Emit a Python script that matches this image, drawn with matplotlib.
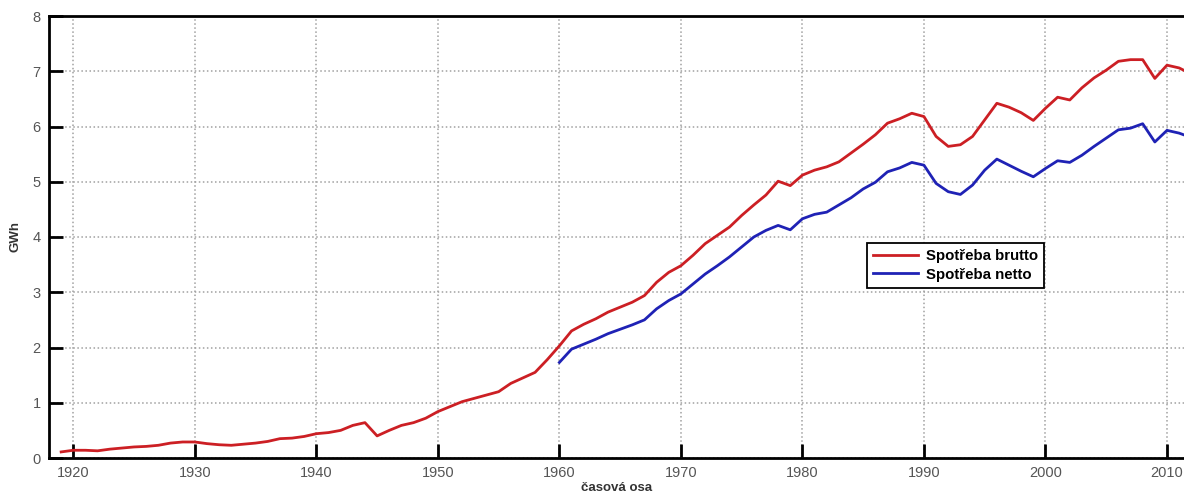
import matplotlib
matplotlib.use("Agg")
import matplotlib.pyplot as plt

years_brutto = [1919, 1920, 1921, 1922, 1923, 1924, 1925, 1926, 1927, 1928, 1929,
                1930, 1931, 1932, 1933, 1934, 1935, 1936, 1937, 1938, 1939,
                1940, 1941, 1942, 1943, 1944, 1945, 1946, 1947, 1948, 1949,
                1950, 1951, 1952, 1953, 1954, 1955, 1956, 1957, 1958, 1959,
                1960, 1961, 1962, 1963, 1964, 1965, 1966, 1967, 1968, 1969,
                1970, 1971, 1972, 1973, 1974, 1975, 1976, 1977, 1978, 1979,
                1980, 1981, 1982, 1983, 1984, 1985, 1986, 1987, 1988, 1989,
                1990, 1991, 1992, 1993, 1994, 1995, 1996, 1997, 1998, 1999,
                2000, 2001, 2002, 2003, 2004, 2005, 2006, 2007, 2008, 2009,
                2010, 2011, 2012]
brutto = [0.11, 0.14, 0.14, 0.13, 0.16, 0.18, 0.20, 0.21, 0.23, 0.27, 0.29,
          0.29, 0.26, 0.24, 0.23, 0.25, 0.27, 0.30, 0.35, 0.36, 0.39,
          0.44, 0.46, 0.50, 0.59, 0.64, 0.40, 0.50, 0.59, 0.64, 0.72,
          0.84, 0.93, 1.02, 1.08, 1.14, 1.20, 1.35, 1.45, 1.55, 1.78,
          2.03, 2.30, 2.42, 2.52, 2.64, 2.73, 2.82, 2.94, 3.18, 3.36,
          3.48, 3.67, 3.88, 4.03, 4.18, 4.39, 4.58, 4.76, 5.01, 4.93,
          5.12, 5.21, 5.27, 5.36, 5.52, 5.68, 5.85, 6.06, 6.14, 6.24,
          6.18, 5.82, 5.64, 5.67, 5.82, 6.12, 6.42, 6.35, 6.25, 6.11,
          6.33, 6.53, 6.48, 6.70, 6.88, 7.02, 7.18, 7.21, 7.21, 6.87,
          7.11, 7.06, 6.95]

years_netto = list(range(1960, 2013))
netto = [1.73, 1.97, 2.06, 2.15, 2.25, 2.33, 2.41, 2.50, 2.70, 2.85,
         2.97, 3.15, 3.33, 3.48, 3.64, 3.82, 4.00, 4.12, 4.21, 4.13,
         4.33, 4.41, 4.45, 4.58, 4.71, 4.87, 4.99, 5.18, 5.25, 5.35,
         5.30, 4.97, 4.82, 4.77, 4.94, 5.21, 5.41, 5.30, 5.19, 5.09,
         5.24, 5.38, 5.35, 5.48, 5.64, 5.79, 5.94, 5.97, 6.05, 5.72,
         5.93, 5.88, 5.80]

xticks = [1920, 1930, 1940, 1950, 1960, 1970, 1980, 1990, 2000, 2010]
yticks = [0, 1, 2, 3, 4, 5, 6, 7, 8]

plt.rcParams['font.family'] = ['Liberation Sans', 'DejaVu Sans']

fig = plt.figure(figsize=(11.84, 4.95), dpi=100)
ax = fig.add_axes([49/1184, 37/495, 1 - 49/1184, 442/495])

ax.plot(years_brutto, brutto, color='#cc1f24', lw=2.0, label='Spotřeba brutto')
ax.plot(years_netto, netto, color='#1f22b5', lw=2.0, label='Spotřeba netto')

ax.set_xlim(1918.0, 2011.4)
ax.set_ylim(0, 8)
ax.set_xticks(xticks)
ax.set_yticks(yticks)
ax.grid(True, linestyle=':', color='#a0a0a0', linewidth=1.1)
ax.tick_params(direction='in', length=10, width=2, colors='black',
               labelcolor='#555555', labelsize=10.5, pad=6)
for s in ['left', 'bottom', 'top']:
    ax.spines[s].set_linewidth(2)
ax.spines['right'].set_visible(False)

ax.set_ylabel('GWh', fontweight='bold', fontsize=9.5, color='#333333', labelpad=8)
ax.set_xlabel('časová osa', fontweight='bold', fontsize=9.5, color='#333333', labelpad=1)

leg = ax.legend(loc='upper left', bbox_to_anchor=((867-49)/1135, (458-243)/442),
                borderaxespad=0, fancybox=False, edgecolor='black', framealpha=1,
                prop={'weight': 'bold', 'size': 10.8}, handlelength=3.0,
                labelspacing=0.3, borderpad=0.4, handletextpad=0.5)
leg.get_frame().set_linewidth(1.3)

fig.savefig('out.png', dpi=100)
